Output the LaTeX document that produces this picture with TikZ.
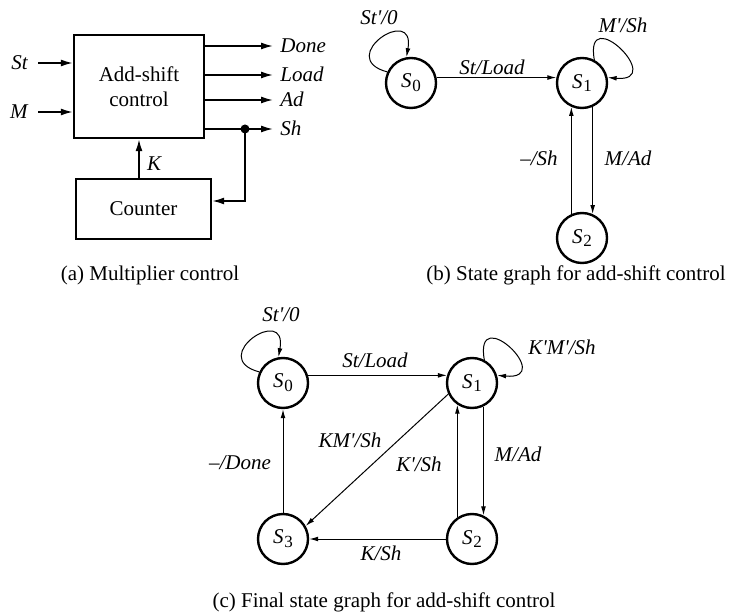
\documentclass[tikz,border=0pt]{standalone}
\usepackage{fontspec}
\setmainfont{Liberation Serif}
\usetikzlibrary{arrows.meta}
\newcommand\Sx[1]{\textit{S}\kern0.04em\raisebox{-0.4ex}{\fontsize{8.5}{8.5}\selectfont #1}}
\newcommand\pr{\textquotesingle}
\begin{document}
\begin{tikzpicture}[x=0.5pt,y=0.5pt,
  font=\fontsize{10.5}{12.5}\selectfont,
  blk/.style={draw,line width=1.2pt,inner sep=0pt,align=center},
  sig/.style={line width=0.8pt,-{Latex[length=6pt,width=3.5pt]}},
  state/.style={draw,circle,line width=1.2pt,minimum size=25pt,inner sep=0pt},
  tr/.style={line width=0.5pt,-{Latex[length=4.5pt,width=2.4pt]}},
  lbl/.style={font=\fontsize{10.5}{12.5}\selectfont\itshape,inner sep=0pt},
  outl/.style={lbl,anchor=west,text height=7pt,text depth=0pt},
  captext/.style={inner sep=0pt}]
\useasboundingbox (0,0) rectangle (731,615);

% ---------- (a) ----------
\node[blk,minimum width=65pt,minimum height=51.5pt] (ctl) at (139,528.5) {Add-shift\\control};
\node[blk,minimum width=67.5pt,minimum height=30pt] (cnt) at (143.5,406) {Counter};
\node[lbl,anchor=east,text height=7pt,text depth=0pt] (st) at (28,552) {St};
\node[lbl,anchor=east,text height=7pt,text depth=0pt] (m) at (28,503) {M};
\draw[sig,shorten <=5pt] (st.east) -- (st.east -| ctl.west);
\draw[sig,shorten <=5pt] (m.east) -- (m.east -| ctl.west);
\node[outl] (done) at (280,569) {Done};
\node[outl] (load) at (280,540) {Load};
\node[outl] (ad) at (280,515) {Ad};
\node[outl] (sh) at (280,486) {Sh};
\draw[sig,shorten >=3.5pt] (done.west -| ctl.east) -- (done.west);
\draw[sig,shorten >=3.5pt] (load.west -| ctl.east) -- (load.west);
\draw[sig,shorten >=3.5pt] (ad.west -| ctl.east) -- (ad.west);
\draw[sig,shorten >=3.5pt] (sh.west -| ctl.east) -- (sh.west);
\node[circle,fill,inner sep=0pt,minimum size=4.5pt] (dot) at (245,486) {};
\coordinate (fb) at (245,414);
\draw[sig] (dot.center) -- (fb) -- (fb -| cnt.east);
\draw[sig] (ctl.south |- cnt.north) -- (ctl.south);
\node[lbl] (k) at (154,451) {K};
\node[captext] (capa) at (150,340) {(a) Multiplier control};

% ---------- (b) ----------
\node[state] (S0b) at (411,532) {\Sx0};
\node[state] (S1b) at (582,532) {\Sx1};
\node[state] (S2b) at (582,377) {\Sx2};
\draw[tr] (S0b.12) -- (S1b.168);
\draw[tr] (S0b.155) .. controls +(165:55) and +(80:55) .. (S0b.100);
\draw[tr] (S1b.62) .. controls +(100:60) and +(-5:60) .. (S1b.12);
\draw[tr] (S2b.114) -- (S1b.246);
\draw[tr] (S1b.294) -- (S2b.66);
\node[lbl] (b1) at (379,597) {St\pr/0};
\node[lbl] (b2) at (492,548) {St/Load};
\node[lbl] (b3) at (623,590) {M\pr/Sh};
\node[lbl] (b4) at (539,457) {--/Sh};
\node[lbl] (b5) at (628,457) {M/Ad};
\node[captext] (capb) at (576,340) {(b) State graph for add-shift control};

% ---------- (c) ----------
\node[state] (S0c) at (283,232) {\Sx0};
\node[state] (S1c) at (472,232) {\Sx1};
\node[state] (S2c) at (472,76) {\Sx2};
\node[state] (S3c) at (283,76) {\Sx3};
\draw[tr] (S0c.17) -- (S1c.163);
\draw[tr] (S0c.155) .. controls +(165:55) and +(80:55) .. (S0c.100);
\draw[tr] (S1c.62) .. controls +(100:60) and +(-5:60) .. (S1c.17);
\draw[tr] (S1c.296) -- (S2c.64);
\draw[tr] (S2c.124) -- (S1c.236);
\draw[tr] (S1c.205) -- (S3c.30);
\draw[tr] (S2c) -- (S3c);
\draw[tr] (S3c) -- (S0c);
\node[lbl] (c1) at (281,300) {St\pr/0};
\node[lbl] (c2) at (375,255) {St/Load};
\node[lbl,anchor=west] (c3) at (528,268) {K\pr M\pr/Sh};
\node[lbl] (c4) at (350,175) {KM\pr/Sh};
\node[lbl] (c5) at (419,151) {K\pr/Sh};
\node[lbl] (c6) at (518,161) {M/Ad};
\node[lbl] (c7) at (240,152) {--/Done};
\node[lbl] (c8) at (381,62) {K/Sh};
\node[captext] (capc) at (384,13) {(c) Final state graph for add-shift control};
\end{tikzpicture}
\end{document}
